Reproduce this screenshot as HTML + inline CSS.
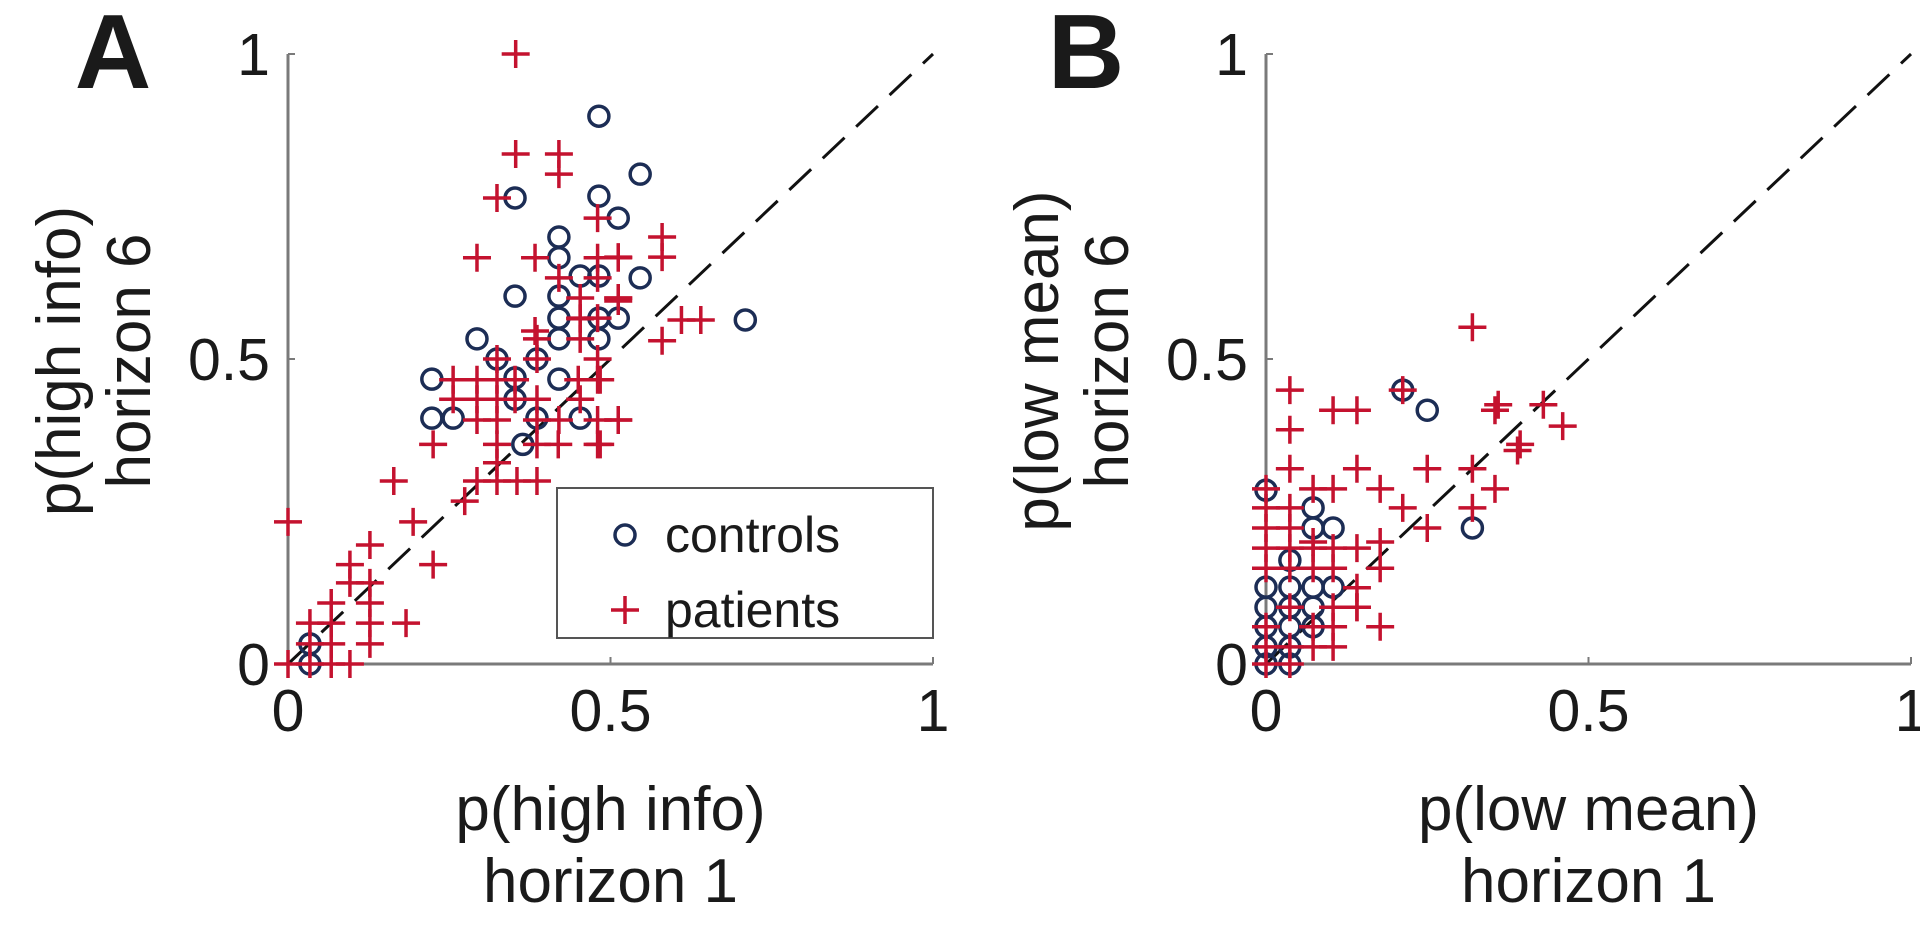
<!DOCTYPE html>
<html><head><meta charset="utf-8"><style>
html,body{margin:0;padding:0;background:#fff;}
svg text{font-family:"Liberation Sans",Arial,sans-serif;fill:#1a1a1a;}
</style></head><body>
<svg id="chart" width="1920" height="936" viewBox="0 0 1920 936" xmlns="http://www.w3.org/2000/svg">
<g id="panelA"></g>
<g id="panelB"></g>
</svg>
<script>
// Panel A: controls
const aCtrlX=[.482,.352,.482,.512,.42,.42,.453,.482,.352,.42,.42,.482,.512,.546,.546,.709,.293,.324,.386,.42,.482,.352,.352,.42,.223,.223,.256,.386,.453,.364,.034,.034];
const aCtrlY=[.898,.764,.767,.731,.70,.666,.636,.636,.603,.603,.567,.567,.567,.803,.633,.564,.533,.50,.50,.533,.533,.469,.434,.467,.467,.403,.403,.403,.403,.36,.033,0];
// Panel A: patients
const aPatX=[.353,.353,.42,.42,.324,.293,.383,.48,.512,.42,.48,.48,.453,.512,.453,.48,.383,.58,.58,.512,.512,.61,.64,.58,.512,.484,.484,.512,.293,.324,.386,.42,.48,.512,.256,.293,.324,.352,.386,.453,.256,.293,.324,.352,.45,.48,.324,.386,.48,.386,.453,.453,.324,.324,.386,.419,.48,.225,.293,.324,.355,.386,.274,.164,.194,0,.127,.225,.096,.127,.096,.067,.127,.183,.034,.067,.127,.067,.127,.034,0,.034,.067,.096];
const aPatY=[1.0,.836,.836,.803,.764,.666,.666,.666,.666,.633,.633,.731,.60,.60,.567,.567,.546,.70,.667,.667,.60,.564,.564,.53,.40,.466,.36,.595,.40,.40,.40,.40,.40,.40,.434,.434,.434,.434,.434,.434,.466,.466,.466,.466,.466,.466,.50,.50,.50,.533,.533,.566,.33,.36,.36,.36,.36,.36,.30,.30,.30,.30,.267,.30,.233,.233,.195,.163,.163,.133,.133,.10,.10,.067,.067,.067,.067,.033,.033,.033,0,0,0,0];
// Panel B: controls
const bCtrlX=[.212,.25,.32,0,.073,.073,.104,.037,0,.037,.073,.104,0,.037,.073,0,.037,.073,0,.037,0,.037];
const bCtrlY=[.449,.416,.223,.285,.256,.223,.223,.17,.126,.126,.126,.126,.093,.093,.093,.061,.061,.061,.028,.028,0,0];
// Panel B: patients
const bPatX=[.32,.037,.037,.104,.141,.212,.355,.43,.46,.394,.36,.037,.141,.25,.32,.39,.355,.177,.073,.104,0,0,.037,.212,.32,.25,.037,0,0,.037,.073,.104,.141,.177,0,.037,.073,.104,.141,.141,.177,.104,.104,.104,.073,.037,0,.073,.037,0,0,.037,.073,.141,.177];
const bPatY=[.552,.449,.384,.416,.416,.449,.416,.425,.39,.36,.425,.32,.32,.32,.32,.35,.287,.287,.287,.287,.287,.256,.256,.256,.256,.223,.223,.223,.19,.19,.19,.19,.19,.157,.157,.157,.157,.157,.125,.093,.061,.093,.061,.028,.028,.028,.028,.061,.093,.061,0,0,.2,.093,.2];
const ticks=[0,0.5,1];
const tickLabels=["0","0.5","1"];

const NS="http://www.w3.org/2000/svg";
function mk(parent,tag,attrs,txt){const e=document.createElementNS(NS,tag);for(const k in attrs)e.setAttribute(k,attrs[k]);if(txt!==undefined)e.textContent=txt;parent.appendChild(e);return e;}
const AX='#7a7a7a', RED='#c4122f', NAVY='#1c2d55';

function panel(g,x0,letter,letterDx,yl1,xl1,cx,cy,px,py){
  const W=645,y0=664,H=610;
  const sx=v=>x0+v*W, sy=v=>y0-v*H;
  let e=mk(g,'line',{x1:x0,y1:sy(1),x2:x0,y2:y0,stroke:AX,'stroke-width':3});
  
  
  e=mk(g,'line',{x1:x0,y1:y0,x2:sx(1),y2:y0,stroke:AX,'stroke-width':3});
  
  
  ticks.forEach((t,i)=>{
    let l=mk(g,'line',{x1:x0,y1:sy(t),x2:x0+7,y2:sy(t),stroke:AX,'stroke-width':2});
    
    
    l=mk(g,'line',{x1:sx(t),y1:y0,x2:sx(t),y2:y0-7,stroke:AX,'stroke-width':2});
    
    
    let tx=mk(g,'text',{x:x0-18,y:sy(t)+21,'font-size':59,'text-anchor':'end'},tickLabels[i]);
    
    
    tx=mk(g,'text',{x:sx(t),y:731,'font-size':59,'text-anchor':'middle'},tickLabels[i]);
    
    
  });
  e=mk(g,'line',{x1:sx(0),y1:sy(0),x2:sx(1),y2:sy(1),stroke:'#111','stroke-width':3,'stroke-dasharray':'30 16'});
  
  
  cx.forEach((v,i)=>{const c=mk(g,'circle',{cx:sx(v),cy:sy(cy[i]),r:10,fill:'none',stroke:NAVY,'stroke-width':3.5});
    
    });
  px.forEach((v,i)=>{const X=sx(v),Y=sy(py[i]);const p=mk(g,'path',{d:`M${X-14},${Y}H${X+14}M${X},${Y-14}V${Y+14}`,stroke:RED,'stroke-width':3.5,fill:'none'});
    
    });
  let t=mk(g,'text',{x:x0+letterDx,y:88,'font-size':106,'font-weight':'bold','text-anchor':'middle',fill:'#000'},letter);
  
  
  t=mk(g,'text',{transform:`translate(${x0-208},361) rotate(-90)`,'font-size':62,'text-anchor':'middle'},yl1);
  
  
  t=mk(g,'text',{transform:`translate(${x0-138},361) rotate(-90)`,'font-size':62,'text-anchor':'middle'},'horizon 6');
  
  
  t=mk(g,'text',{x:sx(0.5),y:830,'font-size':62,'text-anchor':'middle'},xl1);
  
  
  t=mk(g,'text',{x:sx(0.5),y:902,'font-size':62,'text-anchor':'middle'},'horizon 1');
  
  
}
const gA=document.getElementById('panelA'), gB=document.getElementById('panelB');
panel(gA,288,'A',-175,'p(high info)','p(high info)',aCtrlX,aCtrlY,aPatX,aPatY);
panel(gB,1266,'B',-180,'p(low mean)','p(low mean)',bCtrlX,bCtrlY,bPatX,bPatY);
const lg=mk(gA,'g',{});


mk(lg,'rect',{x:557,y:488,width:376,height:150,fill:'#fff',stroke:'#555','stroke-width':2});
const c1=mk(lg,'circle',{cx:625,cy:535,r:10,fill:'none',stroke:NAVY,'stroke-width':3.5});


const t1=mk(lg,'text',{x:665,y:552,'font-size':50},'controls');


const p1=mk(lg,'path',{d:'M611,610H639M625,596V624',stroke:RED,'stroke-width':3.5});


const t2=mk(lg,'text',{x:665,y:627,'font-size':50},'patients');


</script>
</body></html>
